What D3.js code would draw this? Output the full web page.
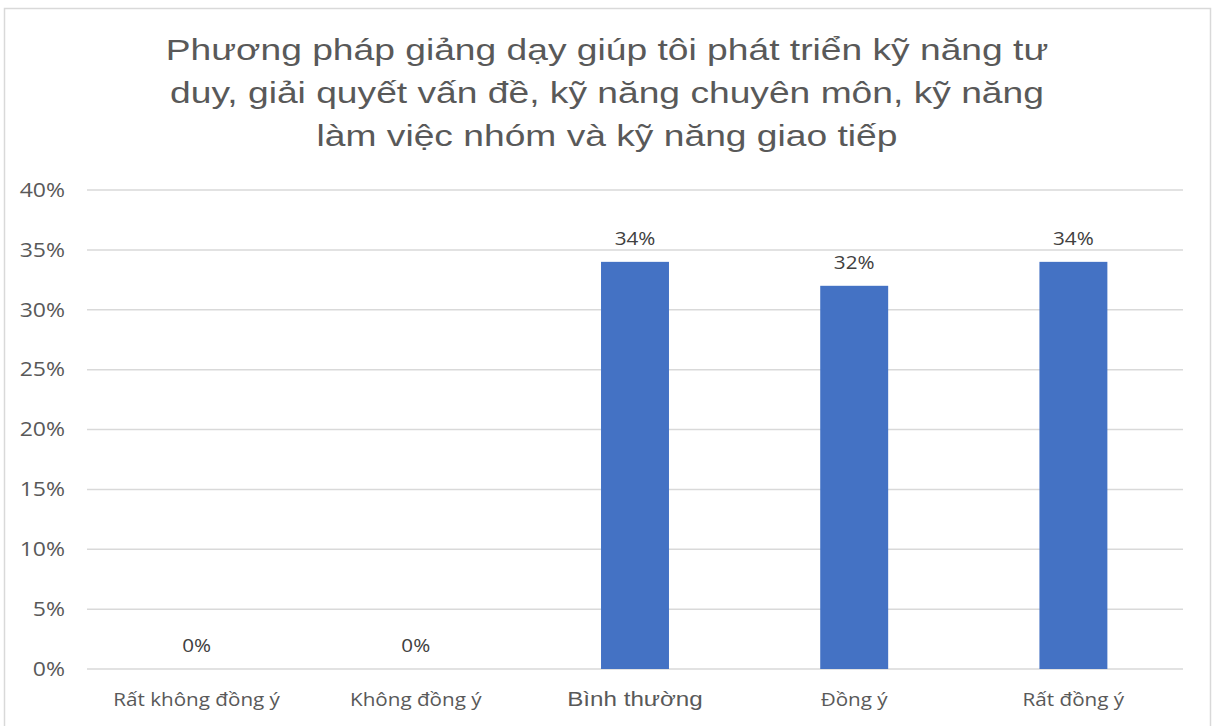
<!DOCTYPE html>
<html>
<head>
<meta charset="utf-8">
<script src="https://cdn.jsdelivr.net/npm/d3@7"></script>
<style>
  body { margin: 0; background: #fff; }
</style>
</head>
<body>
<svg id="chart"></svg>
<script>
// chart values
const titleLines = [
  "Phương pháp giảng dạy giúp tôi phát triển kỹ năng tư",
  "duy, giải quyết vấn đề, kỹ năng chuyên môn, kỹ năng",
  "làm việc nhóm và kỹ năng giao tiếp"
];
const categories = ["Rất không đồng ý", "Không đồng ý", "Bình thường", "Đồng ý", "Rất đồng ý"];
const values = [0, 0, 0.34, 0.32, 0.34];
const yTicks = [0, 0.05, 0.10, 0.15, 0.20, 0.25, 0.30, 0.35, 0.40];

const WIDTH = 1214;
const HEIGHT = 726;
const margin = { left: 87, right: 31, top: 190, bottom: 57 };

// the reference is a bit wide, so texts get a horizontal stretch
const STRETCH = 1.18;
const bodyFont = "'Open Sans', 'Noto Sans', sans-serif";
const arialFont = "'Liberation Sans', Arial, sans-serif";

function place(x, y, sx) {
  return "translate(" + x + "," + y + ") scale(" + sx + ",1)";
}

let svg = d3.select("#chart")
  .attr("width", WIDTH)
  .attr("height", HEIGHT);

// chart border
svg.append("rect")
  .attr("x", 4.5)
  .attr("y", 8.5)
  .attr("width", 1206)
  .attr("height", 740)
  .style("fill", "#fff")
  .style("stroke", "#d9d9d9")
  .style("stroke-width", 1.5);

// title
svg.append("g")
  .selectAll("text")
  .data(titleLines)
  .enter().append("text")
    .attr("transform", (d, i) => place(607, 60 + i * 43, 1.24))
    .attr("text-anchor", "middle")
    .style("font-family", arialFont)
    .style("font-size", "30px")
    .style("fill", "#595959")
    .text(d => d);

let x = d3.scaleBand()
  .domain(categories)
  .range([margin.left, WIDTH - margin.right])
  .paddingInner(0.69)
  .paddingOuter(0.345);

let y = d3.scaleLinear()
  .domain([0, 0.4])
  .range([HEIGHT - margin.bottom, margin.top]);

// gridlines
svg.append("g")
  .selectAll("line")
  .data(yTicks)
  .enter().append("line")
    .attr("x1", margin.left)
    .attr("x2", WIDTH - margin.right)
    .attr("y1", d => y(d))
    .attr("y2", d => y(d))
    .style("stroke", "#d9d9d9")
    .style("stroke-width", 1.5);

// y axis labels
svg.append("g")
  .selectAll("text")
  .data(yTicks)
  .enter().append("text")
    .attr("transform", d => place(65, y(d), STRETCH))
    .attr("dy", "0.35em")
    .attr("text-anchor", "end")
    .style("font-family", bodyFont)
    .style("font-size", "19.5px")
    .style("fill", "#595959")
    .text(d => d3.format(".0%")(d));

// bars
svg.append("g")
  .selectAll("rect")
  .data(values)
  .enter().append("rect")
    .attr("x", (d, i) => x(categories[i]))
    .attr("y", d => y(d))
    .attr("width", x.bandwidth())
    .attr("height", d => y(0) - y(d))
    .style("fill", "#4472c4");

// data labels
svg.append("g")
  .selectAll("text")
  .data(values)
  .enter().append("text")
    .attr("transform", (d, i) => place(x(categories[i]) + x.bandwidth() / 2, y(d) - 17, STRETCH))
    .attr("text-anchor", "middle")
    .style("font-family", bodyFont)
    .style("font-size", "17.5px")
    .style("fill", "#404040")
    .text(d => d3.format(".0%")(d));

// category labels
svg.append("g")
  .selectAll("text")
  .data(categories)
  .enter().append("text")
    .attr("transform", d => place(x(d) + x.bandwidth() / 2, 706, STRETCH))
    .attr("text-anchor", "middle")
    .style("font-family", (d, i) => i === 2 ? arialFont : bodyFont)
    .style("font-size", (d, i) => i === 2 ? "20.5px" : "17.5px")
    .style("fill", "#595959")
    .text(d => d);
</script>
</body>
</html>
